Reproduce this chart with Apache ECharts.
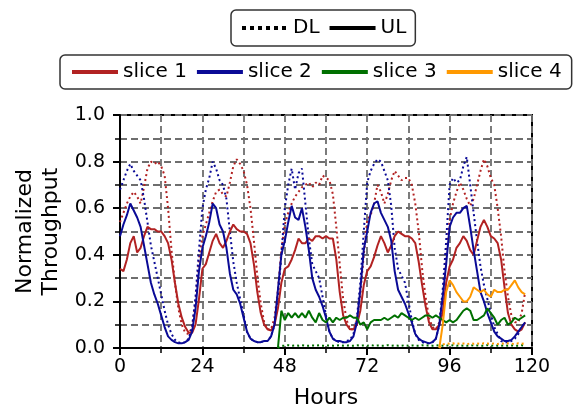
<!DOCTYPE html>
<html>
<head>
<meta charset="utf-8">
<script src="https://cdn.jsdelivr.net/npm/echarts@6/dist/echarts.min.js"></script>
<style>
html,body{margin:0;padding:0;background:#fff;}
#c{width:575px;height:414px;}
</style>
</head>
<body>
<div id="c"></div>
<script>
// ---- data ----
const xTicks = [0, 24, 48, 72, 96, 120];
const yTicks = [0.0, 0.2, 0.4, 0.6, 0.8, 1.0];
const sliceNames = ['slice 1', 'slice 2', 'slice 3', 'slice 4'];
const sliceColors = ['#b22222', '#0a0a96', '#007000', '#ff9900'];

// start hour of each slice's series
const slice1Start = 0, slice2Start = 0, slice3Start = 46, slice4Start = 93;

// slice 1 (red)
const slice1UL = [
  0.34,0.33,0.38,0.45,0.48,0.41,0.43,0.48,0.52,0.51,0.51,0.50,0.50,0.48,0.45,0.38,0.28,0.19,0.13,0.09,0.065,0.065,0.10,0.21,
  0.34,0.36,0.41,0.46,0.49,0.45,0.43,0.46,0.50,0.53,0.51,0.50,0.50,0.49,0.45,0.36,0.24,0.15,0.10,0.08,0.075,0.10,0.17,0.28,
  0.34,0.35,0.38,0.42,0.47,0.45,0.45,0.47,0.46,0.48,0.48,0.47,0.48,0.47,0.47,0.38,0.24,0.14,0.10,0.08,0.08,0.10,0.16,0.27,
  0.33,0.35,0.39,0.44,0.48,0.45,0.41,0.44,0.48,0.50,0.49,0.48,0.48,0.47,0.45,0.37,0.27,0.18,0.11,0.08,0.08,0.10,0.15,0.28,
  0.35,0.38,0.43,0.45,0.48,0.46,0.42,0.40,0.46,0.52,0.55,0.52,0.48,0.47,0.45,0.38,0.26,0.15,0.10,0.08,0.07,0.08,0.11
];
const slice1DL = [
  0.54,0.58,0.62,0.65,0.67,0.65,0.62,0.69,0.77,0.80,0.79,0.80,0.78,0.74,0.60,0.42,0.28,0.17,0.10,0.065,0.06,0.09,0.20,0.38,
  0.48,0.53,0.58,0.63,0.67,0.68,0.66,0.65,0.71,0.78,0.81,0.79,0.76,0.70,0.60,0.46,0.31,0.19,0.11,0.08,0.08,0.13,0.25,0.42,
  0.53,0.58,0.62,0.65,0.67,0.69,0.70,0.71,0.69,0.71,0.70,0.74,0.73,0.72,0.66,0.52,0.36,0.21,0.12,0.08,0.08,0.12,0.23,0.40,
  0.55,0.57,0.62,0.70,0.67,0.62,0.66,0.72,0.76,0.74,0.72,0.73,0.73,0.70,0.62,0.50,0.34,0.22,0.13,0.09,0.08,0.11,0.22,0.40,
  0.55,0.62,0.67,0.71,0.68,0.64,0.61,0.64,0.70,0.76,0.81,0.78,0.73,0.70,0.60,0.48,0.33,0.22,0.14,0.11,0.11,0.15,0.24
];
// slice 2 (blue)
const slice2UL = [
  0.48,0.53,0.57,0.62,0.59,0.56,0.52,0.44,0.36,0.28,0.23,0.19,0.14,0.09,0.05,0.035,0.025,0.02,0.02,0.025,0.035,0.07,0.17,0.33,
  0.43,0.48,0.54,0.62,0.60,0.53,0.50,0.43,0.32,0.25,0.23,0.19,0.13,0.07,0.04,0.03,0.025,0.025,0.03,0.03,0.05,0.10,0.25,0.40,
  0.46,0.54,0.61,0.56,0.55,0.60,0.52,0.42,0.30,0.25,0.22,0.18,0.13,0.07,0.04,0.03,0.03,0.025,0.025,0.03,0.05,0.11,0.25,0.42,
  0.50,0.58,0.62,0.63,0.58,0.55,0.52,0.46,0.33,0.25,0.22,0.19,0.15,0.11,0.06,0.04,0.03,0.025,0.02,0.025,0.04,0.10,0.22,0.36,
  0.52,0.56,0.58,0.58,0.60,0.61,0.52,0.42,0.33,0.24,0.20,0.15,0.11,0.07,0.05,0.04,0.03,0.03,0.035,0.05,0.07,0.09,0.11
];
const slice2DL = [
  0.68,0.72,0.76,0.79,0.76,0.74,0.72,0.64,0.54,0.44,0.37,0.30,0.23,0.16,0.10,0.06,0.035,0.025,0.02,0.025,0.04,0.09,0.22,0.42,
  0.60,0.68,0.73,0.80,0.77,0.72,0.70,0.64,0.50,0.37,0.28,0.21,0.14,0.07,0.04,0.03,0.025,0.025,0.03,0.03,0.05,0.10,0.22,0.40,
  0.60,0.70,0.77,0.68,0.75,0.77,0.62,0.47,0.36,0.33,0.30,0.22,0.14,0.07,0.04,0.03,0.025,0.025,0.03,0.035,0.06,0.13,0.28,0.50,
  0.71,0.76,0.79,0.81,0.80,0.76,0.72,0.61,0.43,0.34,0.31,0.28,0.20,0.12,0.06,0.035,0.025,0.02,0.02,0.025,0.04,0.10,0.25,0.46,
  0.70,0.73,0.71,0.72,0.78,0.82,0.70,0.58,0.46,0.35,0.27,0.21,0.15,0.09,0.06,0.03,0.025,0.025,0.03,0.04,0.06,0.09,0.11
];
// slice 3 (green), from hour 46
const slice3UL = [
  0.0,0.16,
  0.12,0.15,0.13,0.15,0.13,0.15,0.13,0.16,0.13,0.11,0.15,0.12,0.11,0.13,0.11,0.13,0.12,0.13,0.13,0.14,0.13,0.13,0.10,0.11,
  0.08,0.11,0.12,0.12,0.12,0.13,0.12,0.13,0.14,0.13,0.15,0.14,0.13,0.12,0.13,0.12,0.13,0.14,0.14,0.13,0.14,0.13,0.12,0.11,
  0.12,0.11,0.12,0.14,0.16,0.17,0.16,0.12,0.12,0.13,0.14,0.17,0.15,0.13,0.10,0.12,0.13,0.10,0.11,0.13,0.12,0.13,0.14
];
const slice3DL = [
  0.0,0.01,
  0.01,0.012,0.01,0.011,0.01,0.012,0.01,0.01,0.011,0.01,0.012,0.01,0.01,0.011,0.01,0.01,0.012,0.01,0.011,0.01,0.01,0.012,0.01,0.011,
  0.01,0.012,0.01,0.011,0.01,0.01,0.012,0.01,0.011,0.01,0.01,0.012,0.01,0.011,0.01,0.01,0.012,0.01,0.011,0.01,0.01,0.012,0.01,0.011,
  0.01,0.012,0.01,0.011,0.01,0.01,0.012,0.01,0.011,0.01,0.01,0.012,0.01,0.011,0.01,0.01,0.012,0.01,0.011,0.01,0.01,0.012,0.01
];
// slice 4 (orange), from hour 93
const slice4UL = [
  0.0,0.10,0.24,0.29,0.27,0.24,0.22,0.20,0.20,0.22,0.26,0.25,0.24,0.25,0.23,0.22,0.25,0.24,0.24,0.25,0.25,0.27,0.29,0.26,0.24,0.23
];
const slice4DL = [
  0.0,0.015,0.02,0.018,0.02,0.017,0.02,0.019,0.016,0.02,0.018,0.02,0.017,0.02,0.019,0.018,0.02,0.017,0.02,0.018,0.02,0.019,0.017,0.02,0.018,0.02
];

// ---- build ----
function pairs(start, arr) { return arr.map((v, i) => [start + i, v]); }

const FONT = 'DejaVu Sans';
const ulData = [pairs(slice1Start, slice1UL), pairs(slice2Start, slice2UL), pairs(slice3Start, slice3UL), pairs(slice4Start, slice4UL)];
const dlData = [pairs(slice1Start, slice1DL), pairs(slice2Start, slice2DL), pairs(slice3Start, slice3DL), pairs(slice4Start, slice4DL)];

const series = [];
for (let k = 0; k < 4; k++) {
  series.push({
    name: sliceNames[k] + ' DL', type: 'line', data: dlData[k], symbol: 'none',
    lineStyle: { color: sliceColors[k], width: 2, type: [2, 3] }, itemStyle: { color: sliceColors[k] },
    silent: true, animation: false, z: 2
  });
  series.push({
    name: sliceNames[k], type: 'line', data: ulData[k], symbol: 'none',
    lineStyle: { color: sliceColors[k], width: 2 }, itemStyle: { color: sliceColors[k] },
    silent: true, animation: false, z: 3
  });
}
series.push({ name: 'DL', type: 'line', data: [], symbol: 'none', lineStyle: { color: '#000', width: 2, type: 'dotted' }, itemStyle: { color: '#000' } });
series.push({ name: 'UL', type: 'line', data: [], symbol: 'none', lineStyle: { color: '#000', width: 2 }, itemStyle: { color: '#000' } });

const legendCommon = {
  orient: 'horizontal', itemWidth: 46, itemHeight: 20,
  borderColor: '#333', borderWidth: 1.5, borderRadius: 5,
  selectedMode: false,
  textStyle: { fontFamily: FONT, fontSize: 20, color: '#000' },
  lineStyle: { width: 4 }, itemStyle: { opacity: 0 }
};

const chart = echarts.init(document.getElementById('c'), null, { renderer: 'canvas' });
chart.setOption({
  animation: false,
  backgroundColor: '#fff',
  legend: [
    Object.assign({}, legendCommon, { data: ['DL', 'UL'], left: 231, top: 10, itemGap: 8, padding: [8, 9] }),
    Object.assign({}, legendCommon, { data: sliceNames, left: 60, top: 55, itemGap: 8, padding: [7, 10], width: 500 })
  ],
  grid: { left: 120, top: 115, width: 412, height: 236, show: true, borderColor: '#000', borderWidth: 2, backgroundColor: 'transparent' },
  xAxis: {
    type: 'value', min: xTicks[0], max: xTicks[xTicks.length - 1], interval: 24,
    name: 'Hours', nameLocation: 'middle', nameGap: 39,
    nameTextStyle: { fontFamily: FONT, fontSize: 22, color: '#000' },
    axisLine: { lineStyle: { color: '#000', width: 2 } },
    axisTick: { show: true, length: 7, lineStyle: { color: '#000', width: 2 } },
    minorTick: { show: true, splitNumber: 2, length: 5, lineStyle: { color: '#000', width: 1.5 } },
    axisLabel: { fontFamily: FONT, fontSize: 19, color: '#000', margin: 10 },
    splitLine: { show: true, lineStyle: { color: '#6e6e6e', width: 1.8, type: [7, 4] } },
    minorSplitLine: { show: true, lineStyle: { color: '#6e6e6e', width: 1.8, type: [7, 4] } }
  },
  yAxis: {
    type: 'value', min: yTicks[0], max: yTicks[yTicks.length - 1], interval: 0.2,
    name: 'Normalized\nThroughput', nameLocation: 'middle', nameGap: 56,
    nameTextStyle: { fontFamily: FONT, fontSize: 22, color: '#000', lineHeight: 26 },
    axisLine: { lineStyle: { color: '#000', width: 2 } },
    axisTick: { show: true, length: 7, lineStyle: { color: '#000', width: 2 } },
    minorTick: { show: true, splitNumber: 2, length: 5, lineStyle: { color: '#000', width: 1.5 } },
    axisLabel: { fontFamily: FONT, fontSize: 19, color: '#000', margin: 15, formatter: v => v.toFixed(1) },
    splitLine: { show: true, lineStyle: { color: '#6e6e6e', width: 1.8, type: [7, 4] } },
    minorSplitLine: { show: true, lineStyle: { color: '#6e6e6e', width: 1.8, type: [7, 4] } }
  },
  series: series
});
</script>
</body>
</html>
